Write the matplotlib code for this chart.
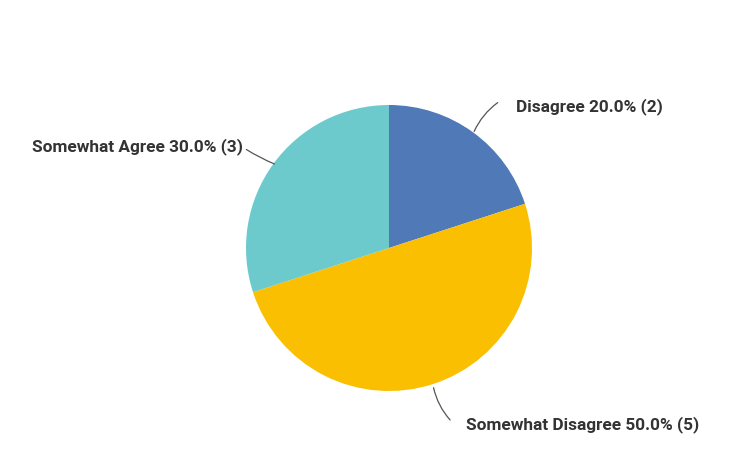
import matplotlib.pyplot as plt

# data
labels = ["Disagree", "Somewhat Disagree", "Somewhat Agree"]
counts = [2, 5, 3]
colors = ["#5079b8", "#f9bf00", "#6ccacd"]

total = sum(counts)
pcts = [c / total * 100 for c in counts]

fig = plt.figure(figsize=(7.54, 4.63), dpi=100)
ax = fig.add_axes([0, 0, 1, 1])

H = 463
cx, cy, r = 389, H - 248, 143
ax.pie(counts, colors=colors, startangle=90, counterclock=False,
       center=(cx, cy), radius=r, frame=True,
       wedgeprops={"linewidth": 0})
ax.set_xlim(0, 754)
ax.set_ylim(0, 463)
ax.set_aspect("equal")
ax.axis("off")

texts = [f"{l} {p:.1f}% ({c})" for l, p, c in zip(labels, pcts, counts)]
font = dict(family="Roboto", fontweight="bold", fontsize=12.4, color="#333333")

# label positions (pixel) and leader lines
ax.text(516, H - 107, texts[0], ha="left", va="center", **font)
ax.annotate("", xy=(473, H - 134), xytext=(500, H - 101),
            arrowprops=dict(arrowstyle="-", color="#555555", lw=0.9,
                            connectionstyle="arc3,rad=0.15"))

ax.text(466, H - 425, texts[1], ha="left", va="center", **font)
ax.annotate("", xy=(433, H - 385), xytext=(452, H - 422),
            arrowprops=dict(arrowstyle="-", color="#555555", lw=0.9,
                            connectionstyle="arc3,rad=-0.15"))

ax.text(243, H - 147, texts[2], ha="right", va="center", **font)
ax.annotate("", xy=(277, H - 165), xytext=(244, H - 148),
            arrowprops=dict(arrowstyle="-", color="#555555", lw=0.9,
                            connectionstyle="arc3,rad=0.05"))

fig.savefig("out.png", dpi=100)
